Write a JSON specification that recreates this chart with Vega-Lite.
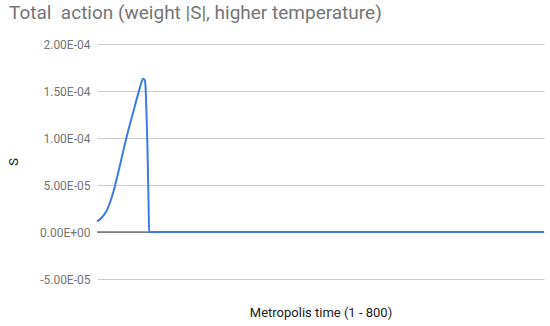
{
  "$schema": "https://vega.github.io/schema/vega-lite/v6.json",
  "autosize": "none",
  "width": 447,
  "height": 235,
  "padding": {"left": 97, "top": 44, "right": 6, "bottom": 47},
  "background": "white",
  "title": {
    "text": "Total \u00a0action (weight |S|, higher temperature)",
    "anchor": "start",
    "frame": "group",
    "dx": -88,
    "offset": 15,
    "font": "Roboto",
    "fontSize": 19,
    "fontWeight": "normal",
    "color": "#757575"
  },
  "config": {
    "view": {"stroke": null},
    "font": "Roboto"
  },
  "data": {
    "values": [
      {"t": 1, "S": 1.13e-5},
      {"t": 8.8, "S": 1.49e-5},
      {"t": 17.7, "S": 2.2e-5},
      {"t": 29.7, "S": 4.15e-5},
      {"t": 41.6, "S": 7.0e-5},
      {"t": 53.5, "S": 1.0e-4},
      {"t": 65.4, "S": 1.268e-4},
      {"t": 74.3, "S": 1.464e-4},
      {"t": 80.3, "S": 1.588e-4},
      {"t": 83.3, "S": 1.631e-4},
      {"t": 86.3, "S": 1.617e-4},
      {"t": 88, "S": 1.517e-4},
      {"t": 89.2, "S": 1.304e-4},
      {"t": 91, "S": 9.49e-5},
      {"t": 92.2, "S": 5.93e-5},
      {"t": 93.4, "S": 2.38e-5},
      {"t": 94, "S": 0},
      {"t": 200, "S": 0},
      {"t": 300, "S": 0},
      {"t": 400, "S": 0},
      {"t": 500, "S": 0},
      {"t": 600, "S": 0},
      {"t": 700, "S": 0},
      {"t": 800, "S": 0}
    ]
  },
  "layer": [
    {
      "mark": {"type": "rule", "color": "#333333", "strokeWidth": 1.2},
      "data": {"values": [{"z": 0}]},
      "encoding": {"y": {"field": "z", "type": "quantitative", "scale": {"domain": [-5e-5, 2e-4], "nice": false}}}
    },
    {
      "mark": {"type": "line", "color": "#3b7be8", "strokeWidth": 2, "interpolate": "monotone"},
      "encoding": {
        "x": {
          "field": "t",
          "type": "quantitative",
          "scale": {"domain": [1, 800], "nice": false, "zero": false},
          "axis": {
            "title": "Metropolis time (1 - 800)",
            "labels": false,
            "ticks": false,
            "domain": false,
            "grid": false,
            "titleFont": "Roboto",
            "titleFontSize": 13,
            "titleFontWeight": "normal",
            "titleColor": "#222222",
            "titlePadding": 27
          }
        },
        "y": {
          "field": "S",
          "type": "quantitative",
          "scale": {"domain": [-5e-5, 2e-4], "nice": false},
          "axis": {
            "title": "S",
            "values": [-5e-5, 0, 5e-5, 1e-4, 1.5e-4, 2e-4],
            "labelExpr": "replace(replace(replace(format(datum.value, '.2e'), 'e-', 'E-0'), 'e+', 'E+0'), '\u2212', '-')",
            "ticks": false,
            "domain": false,
            "grid": true,
            "gridColor": "#cccccc",
            "labelFont": "Roboto",
            "labelFontSize": 12,
            "labelColor": "#757575",
            "labelPadding": 7,
            "titleFont": "Roboto",
            "titleFontSize": 13,
            "titleFontWeight": "normal",
            "titleColor": "#222222",
            "titlePadding": 19
          }
        }
      }
    }
  ]
}
